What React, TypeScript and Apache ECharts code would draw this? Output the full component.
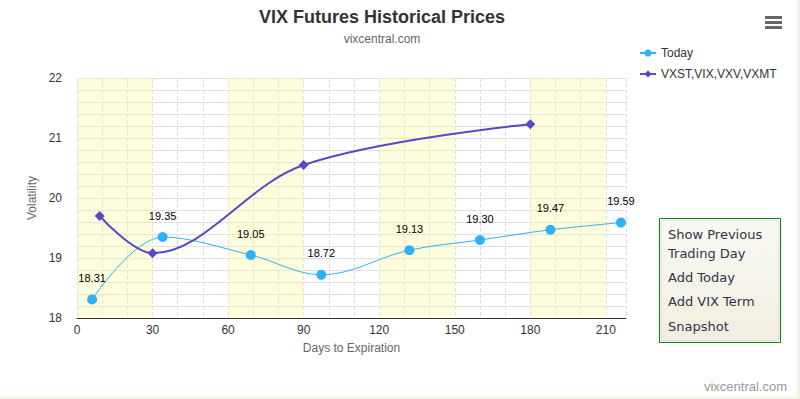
import React, { useEffect, useRef } from "react";
import * as echarts from "echarts";

const todayDays = [6, 34, 69, 97, 132, 160, 188, 216];
const todayValues = [18.31, 19.35, 19.05, 18.72, 19.13, 19.3, 19.47, 19.59];
const termDays = [9, 30, 90, 180];
const termValues = [19.7, 19.08, 20.55, 21.23];
const bandRanges = [
  [0, 30],
  [60, 90],
  [120, 150],
  [180, 210],
];
const buttonLines = ["Show Previous", "Trading Day", "Add Today", "Add VIX Term", "Snapshot"];
const buttonLineY = [234, 253, 277, 301, 326];

export default function App() {
  const ref = useRef<HTMLDivElement>(null);
  useEffect(() => {
    if (!ref.current) return;
    const chart = echarts.init(ref.current, null, { renderer: "svg" });
    const font = "'Liberation Sans', Arial, sans-serif";
    chart.setOption({
      animation: false,
      backgroundColor: "#ffffff",
      textStyle: { fontFamily: font },
      title: [
        {
          text: "VIX Futures Historical Prices",
          left: 377,
          top: 3,
          textAlign: "center",
          textStyle: { fontSize: 18, fontWeight: "bold", color: "#333333", fontFamily: font },
        },
        {
          text: "vixcentral.com",
          left: 377,
          top: 28,
          textAlign: "center",
          textStyle: { fontSize: 12, fontWeight: "normal", color: "#666666", fontFamily: font },
        },
      ],
      legend: {
        orient: "vertical",
        left: 634,
        top: 42,
        itemGap: 9,
        itemWidth: 16,
        itemHeight: 9,
        data: ["Today", "VXST,VIX,VXV,VXMT"],
        textStyle: { fontSize: 12, color: "#333333", fontFamily: font },
      },
      grid: { left: 77, top: 78, right: 174, bottom: 81 },
      xAxis: {
        type: "value",
        min: 0,
        max: 218,
        interval: 10,
        name: "Days to Expiration",
        nameLocation: "middle",
        nameGap: 24,
        nameTextStyle: { fontSize: 12, color: "#666666", fontFamily: font },
        axisLine: { show: true, onZero: false, lineStyle: { color: "#333333", width: 1 } },
        axisTick: { show: false },
        axisLabel: {
          fontSize: 12,
          color: "#333333",
          margin: 6,
          showMaxLabel: false,
          formatter: (v: number) => (v % 30 === 0 ? String(v) : ""),
        },
        splitLine: { show: true, lineStyle: { color: "#dddddd", type: [4, 2], width: 1 } },
      },
      yAxis: {
        type: "value",
        min: 18,
        max: 22,
        interval: 1,
        name: "Volatility",
        nameLocation: "middle",
        nameGap: 37,
        nameTextStyle: { fontSize: 12, color: "#666666", fontFamily: font },
        axisLine: { show: false },
        axisTick: { show: false },
        axisLabel: { fontSize: 12, color: "#333333", margin: 15 },
        splitLine: { show: true, lineStyle: { color: "#e0e0e0", width: 1 } },
        minorTick: { show: false, splitNumber: 5 },
        minorSplitLine: { show: true, lineStyle: { color: "#e0e0e0", width: 1 } },
      },
      series: [
        {
          name: "bands",
          type: "line",
          data: [],
          z: -1,
          silent: true,
          markArea: {
            silent: true,
            itemStyle: { color: "rgba(250,250,160,0.36)" },
            data: bandRanges.map((r) => [{ xAxis: r[0] }, { xAxis: r[1] }]),
          },
        },
        {
          name: "Today",
          type: "line",
          smooth: 0.35,
          data: todayDays.map((d, i) => [d, todayValues[i]]),
          symbol: "circle",
          symbolSize: 10,
          color: "#2fb1f5",
          lineStyle: { width: 1, color: "#2fb1f5" },
          itemStyle: { color: "#2fb1f5" },
          label: {
            show: true,
            position: "top",
            distance: 11,
            fontSize: 11,
            color: "#000000",
            fontFamily: font,
            formatter: (p: any) => p.value[1].toFixed(2),
          },
          z: 3,
        },
        {
          name: "VXST,VIX,VXV,VXMT",
          type: "line",
          smooth: 0.35,
          data: termDays.map((d, i) => [d, termValues[i]]),
          symbol: "diamond",
          symbolSize: 10,
          color: "#5549c6",
          lineStyle: { width: 2, color: "#5549c6" },
          itemStyle: { color: "#5549c6" },
          z: 4,
        },
      ],
      graphic: [
        { type: "rect", shape: { x: 765, y: 16, width: 17, height: 3 }, style: { fill: "#666666" } },
        { type: "rect", shape: { x: 765, y: 21, width: 17, height: 3 }, style: { fill: "#666666" } },
        { type: "rect", shape: { x: 765, y: 26, width: 17, height: 3 }, style: { fill: "#666666" } },
        {
          type: "rect",
          shape: { x: 659.5, y: 218.5, width: 121, height: 124 },
          style: { fill: "none", stroke: "#0a8a0a", lineWidth: 1 },
        },
        {
          type: "rect",
          shape: { x: 661, y: 220, width: 118, height: 121, r: 3 },
          style: {
            fill: new echarts.graphic.LinearGradient(0, 0, 0, 1, [
              { offset: 0, color: "#f9f9f4" },
              { offset: 1, color: "#f1eee0" },
            ]),
            stroke: "#dedcd0",
            lineWidth: 1,
          },
        },
        ...buttonLines.map((t, i) => ({
          type: "text",
          left: 668,
          top: buttonLineY[i] - 6,
          style: {
            text: t,
            fontSize: 13,
            fill: "#333344",
            fontFamily: "'DejaVu Sans', sans-serif",
          },
        })),
        {
          type: "text",
          right: 13,
          top: 380,
          style: { text: "vixcentral.com", fontSize: 13, fill: "#999999", fontFamily: font },
        },
        { type: "rect", shape: { x: 797, y: 0, width: 3, height: 399 }, style: { fill: "#f4f2e6" } },
        { type: "rect", shape: { x: 0, y: 397, width: 800, height: 2 }, style: { fill: "#f4f2e6" } },
      ],
    });
    return () => chart.dispose();
  }, []);
  return (
    <div
      ref={ref}
      style={{ position: "fixed", left: 0, top: 0, width: 800, height: 399 }}
    />
  );
}
